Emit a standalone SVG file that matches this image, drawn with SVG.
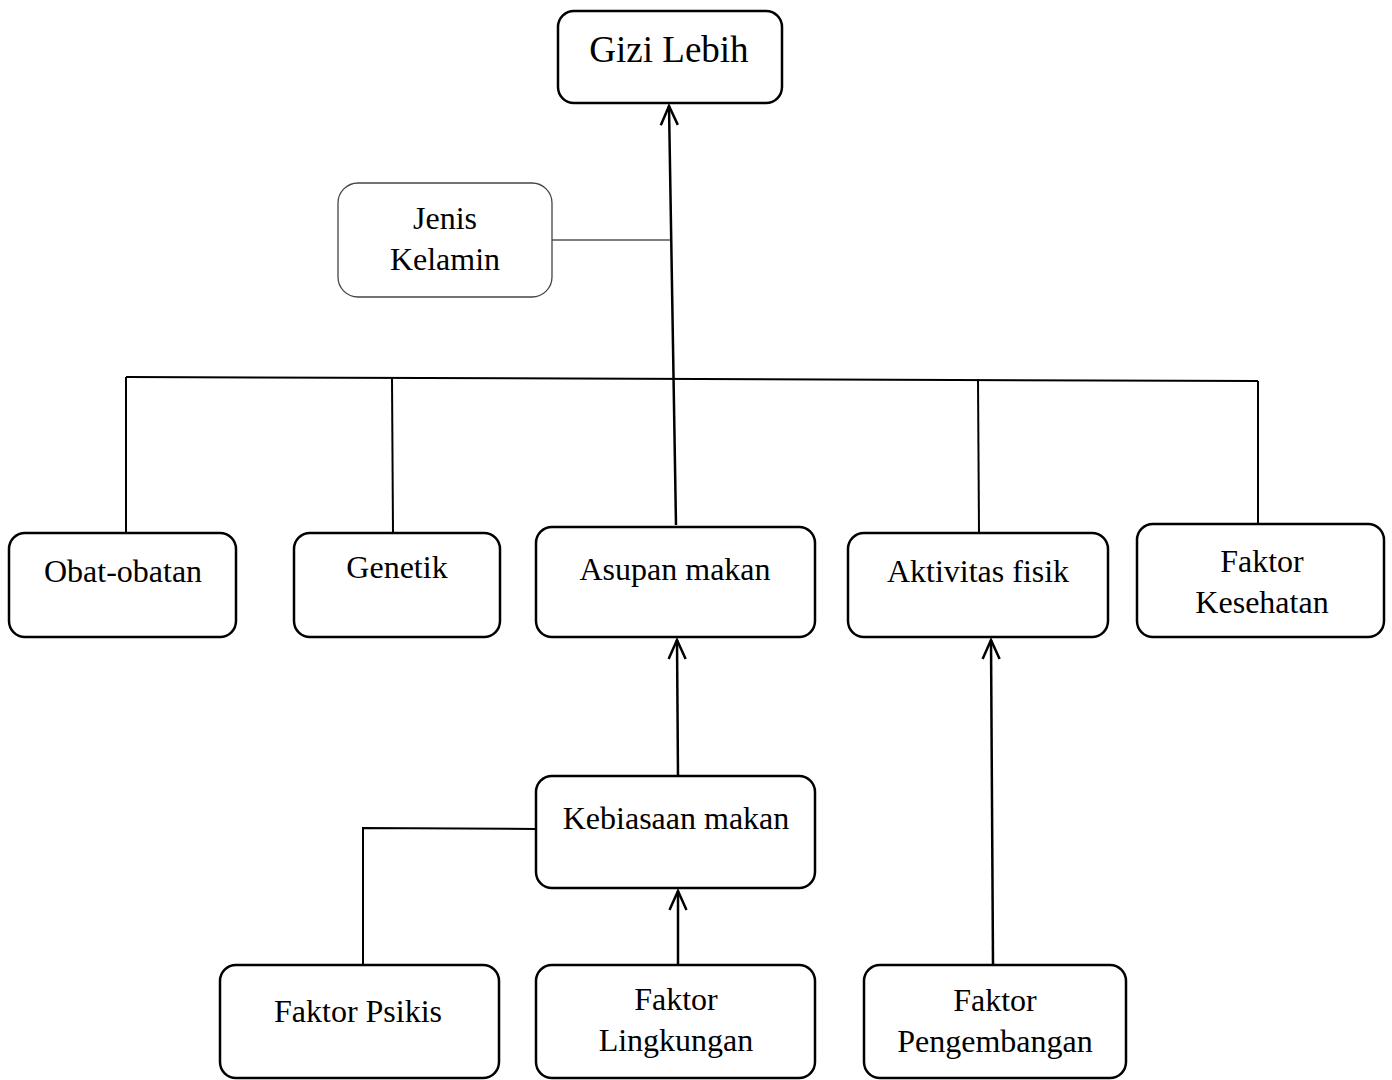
<svg xmlns="http://www.w3.org/2000/svg" width="1392" height="1080" viewBox="0 0 1392 1080">
<style>
.box{fill:#fff;stroke:#000;stroke-width:2.5}
.thin{fill:#fff;stroke:#444;stroke-width:1.3}
.ln{fill:none;stroke:#000;stroke-width:2}
.lt{fill:none;stroke:#555;stroke-width:1.5}
.ar{fill:none;stroke:#000;stroke-width:2.5;marker-end:url(#ah)}
.t{font-family:'Liberation Serif','Times New Roman',serif;font-size:32px;fill:#000;text-anchor:middle}
</style>
<defs>
<marker id="ah" markerUnits="userSpaceOnUse" viewBox="-22 -11 24 22" refX="0" refY="0" markerWidth="24" markerHeight="22" orient="auto">
<path d="M-19,-8.5 L0,0 L-19,8.5" fill="none" stroke="#000" stroke-width="2.5"/>
</marker>
</defs>
<g id="connectors">
<path class="ar" d="M676,525 L669,106"/>
<path class="lt" d="M552,240 L670,240"/>
<path class="ln" d="M126,377 L1258,381"/>
<path class="ln" d="M126,377 L126,533"/>
<path class="ln" d="M392,378 L393,533"/>
<path class="ln" d="M978,379 L979,533"/>
<path class="ln" d="M1258,381 L1258,524"/>
<path class="ar" d="M678,776 L677,640"/>
<path class="ln" d="M536,829 L363,828 L363,965"/>
<path class="ar" d="M678,965 L678,891"/>
<path class="ar" d="M993,965 L991,640"/>
</g>
<g id="gizi-lebih"><rect class="box" x="558" y="11" width="224" height="92" rx="16"/><text class="t" x="669" y="62" style="font-size:37px">Gizi Lebih</text></g>
<g id="jenis-kelamin"><rect class="thin" x="338" y="183" width="214" height="114" rx="20"/><text class="t" x="445" y="229">Jenis</text><text class="t" x="445" y="270">Kelamin</text></g>
<g id="obat-obatan"><rect class="box" x="9" y="533" width="227" height="104" rx="16"/><text class="t" x="123" y="582">Obat-obatan</text></g>
<g id="genetik"><rect class="box" x="294" y="533" width="206" height="104" rx="16"/><text class="t" x="397" y="578">Genetik</text></g>
<g id="asupan-makan"><rect class="box" x="536" y="527" width="279" height="110" rx="16"/><text class="t" x="675" y="580">Asupan makan</text></g>
<g id="aktivitas-fisik"><rect class="box" x="848" y="533" width="260" height="104" rx="16"/><text class="t" x="978" y="582">Aktivitas fisik</text></g>
<g id="faktor-kesehatan"><rect class="box" x="1137" y="524" width="247" height="113" rx="16"/><text class="t" x="1262" y="572">Faktor</text><text class="t" x="1262" y="613">Kesehatan</text></g>
<g id="kebiasaan-makan"><rect class="box" x="536" y="776" width="279" height="112" rx="16"/><text class="t" x="676" y="829">Kebiasaan makan</text></g>
<g id="faktor-psikis"><rect class="box" x="220" y="965" width="279" height="113" rx="16"/><text class="t" x="358" y="1022">Faktor Psikis</text></g>
<g id="faktor-lingkungan"><rect class="box" x="536" y="965" width="279" height="113" rx="16"/><text class="t" x="676" y="1010">Faktor</text><text class="t" x="676" y="1051">Lingkungan</text></g>
<g id="faktor-pengembangan"><rect class="box" x="864" y="965" width="262" height="113" rx="16"/><text class="t" x="995" y="1011">Faktor</text><text class="t" x="995" y="1052">Pengembangan</text></g>
</svg>
